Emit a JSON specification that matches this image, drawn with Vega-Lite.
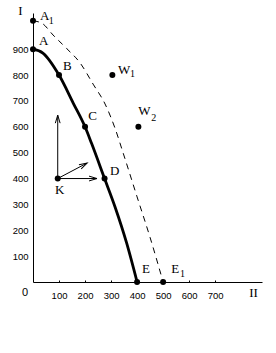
{
  "$schema": "https://vega.github.io/schema/vega-lite/v6.json",
  "width": 229,
  "height": 269,
  "autosize": {"type": "none"},
  "padding": {"left": 33, "top": 13, "right": 14, "bottom": 71},
  "background": "white",
  "config": {
    "view": {"stroke": null},
    "axis": {"grid": false, "domainColor": "black", "domainWidth": 1, "labelColor": "black", "labelFont": "Liberation Sans", "labelFontSize": 9.5, "titleFont": "Liberation Serif", "titleFontSize": 13, "titleFontWeight": "normal", "titleColor": "black", "tickColor": "black"}
  },
  "datasets": {
    "ppf": [
      {"x": 0, "y": 900}, {"x": 38, "y": 885}, {"x": 100, "y": 800}, {"x": 155, "y": 691},
      {"x": 200, "y": 600}, {"x": 225, "y": 536}, {"x": 275, "y": 400}, {"x": 315, "y": 291},
      {"x": 360, "y": 150}, {"x": 400, "y": 0}
    ],
    "ppf1": [
      {"x": 0, "y": 1010}, {"x": 35, "y": 1000}, {"x": 77, "y": 955}, {"x": 130, "y": 902},
      {"x": 181, "y": 847}, {"x": 231, "y": 765}, {"x": 277, "y": 688}, {"x": 315, "y": 595},
      {"x": 346, "y": 500}, {"x": 400, "y": 329}, {"x": 450, "y": 172}, {"x": 500, "y": 0}
    ],
    "pts": [
      {"name": "A", "x": 0, "y": 900}, {"name": "B", "x": 100, "y": 800}, {"name": "C", "x": 200, "y": 600},
      {"name": "D", "x": 275, "y": 400}, {"name": "E", "x": 400, "y": 0}, {"name": "A1", "x": 0, "y": 1010},
      {"name": "E1", "x": 500, "y": 0}, {"name": "W1", "x": 305, "y": 800}, {"name": "W2", "x": 405, "y": 600},
      {"name": "K", "x": 95, "y": 400}
    ],
    "arrows": [
      {"x0": 95, "y0": 400, "x1": 95, "y1": 645, "dir": 0},
      {"x0": 95, "y0": 400, "x1": 246, "y1": 400, "dir": 90},
      {"x0": 95, "y0": 400, "x1": 208, "y1": 460, "dir": 62}
    ],
    "labels": [
      {"t": "A", "x": 27, "y": 1013}, {"t": "A", "x": 23, "y": 916}, {"t": "B", "x": 115, "y": 820},
      {"t": "C", "x": 212, "y": 626}, {"t": "D", "x": 296, "y": 414}, {"t": "K", "x": 85, "y": 340},
      {"t": "E", "x": 419, "y": 35}, {"t": "E", "x": 531, "y": 35}, {"t": "W", "x": 327, "y": 804},
      {"t": "W", "x": 404, "y": 646}
    ],
    "subs": [
      {"t": "1", "x": 61, "y": 997}, {"t": "1", "x": 565, "y": 19}, {"t": "1", "x": 373, "y": 792},
      {"t": "2", "x": 454, "y": 622}
    ],
    "origin": [{"t": "0", "x": 0, "y": 0}]
  },
  "layer": [
    {
      "data": {"name": "ppf1"},
      "mark": {"type": "line", "interpolate": "monotone", "color": "black", "strokeWidth": 1, "strokeDash": [6, 5]},
      "encoding": {
        "x": {"field": "x", "type": "quantitative", "scale": {"domain": [0, 880], "nice": false, "zero": false},
          "axis": {"values": [100, 200, 300, 400, 500, 600, 700], "tickCount": 50, "labelOverlap": false, "labelBound": false, "labelFlush": false, "tickSize": -2, "labelPadding": 10, "title": "II", "titleX": 220, "titleY": 10, "titleBaseline": "middle", "titleAlign": "center", "titleAnchor": null}},
        "y": {"field": "y", "type": "quantitative", "scale": {"domain": [0, 1040], "nice": false, "zero": false},
          "axis": {"values": [100, 200, 300, 400, 500, 600, 700, 800, 900], "tickCount": 50, "labelOverlap": false, "labelBound": false, "labelFlush": false, "ticks": false, "labelPadding": 5, "title": "I", "titleAngle": 0, "titleX": -13, "titleY": -3, "titleBaseline": "middle", "titleAlign": "center", "titleAnchor": null}}
      }
    },
    {
      "data": {"name": "ppf"},
      "mark": {"type": "line", "interpolate": "monotone", "color": "black", "strokeWidth": 2.8},
      "encoding": {
        "x": {"field": "x", "type": "quantitative"},
        "y": {"field": "y", "type": "quantitative"}
      }
    },
    {
      "data": {"name": "arrows"},
      "mark": {"type": "rule", "color": "black", "strokeWidth": 1},
      "encoding": {
        "x": {"field": "x0", "type": "quantitative"},
        "y": {"field": "y0", "type": "quantitative"},
        "x2": {"field": "x1"},
        "y2": {"field": "y1"}
      }
    },
    {
      "data": {"name": "arrows"},
      "mark": {"type": "point", "shape": "M-0.3,1L0,0L0.3,1", "filled": false, "color": "black", "strokeWidth": 1, "size": 256, "opacity": 1},
      "encoding": {
        "x": {"field": "x1", "type": "quantitative"},
        "y": {"field": "y1", "type": "quantitative"},
        "angle": {"field": "dir", "type": "quantitative", "scale": null}
      }
    },
    {
      "data": {"name": "pts"},
      "mark": {"type": "circle", "color": "black", "size": 36, "opacity": 1},
      "encoding": {
        "x": {"field": "x", "type": "quantitative"},
        "y": {"field": "y", "type": "quantitative"}
      }
    },
    {
      "data": {"name": "labels"},
      "mark": {"type": "text", "font": "Liberation Serif", "fontSize": 13, "align": "left", "baseline": "alphabetic", "color": "black"},
      "encoding": {
        "x": {"field": "x", "type": "quantitative"},
        "y": {"field": "y", "type": "quantitative"},
        "text": {"field": "t"}
      }
    },
    {
      "data": {"name": "subs"},
      "mark": {"type": "text", "font": "Liberation Serif", "fontSize": 10, "align": "left", "baseline": "alphabetic", "color": "black"},
      "encoding": {
        "x": {"field": "x", "type": "quantitative"},
        "y": {"field": "y", "type": "quantitative"},
        "text": {"field": "t"}
      }
    },
    {
      "data": {"name": "origin"},
      "mark": {"type": "text", "font": "Liberation Sans", "fontSize": 11, "align": "center", "baseline": "middle", "dx": -8, "dy": 10.5, "color": "black"},
      "encoding": {
        "x": {"field": "x", "type": "quantitative"},
        "y": {"field": "y", "type": "quantitative"},
        "text": {"field": "t"}
      }
    }
  ]
}
